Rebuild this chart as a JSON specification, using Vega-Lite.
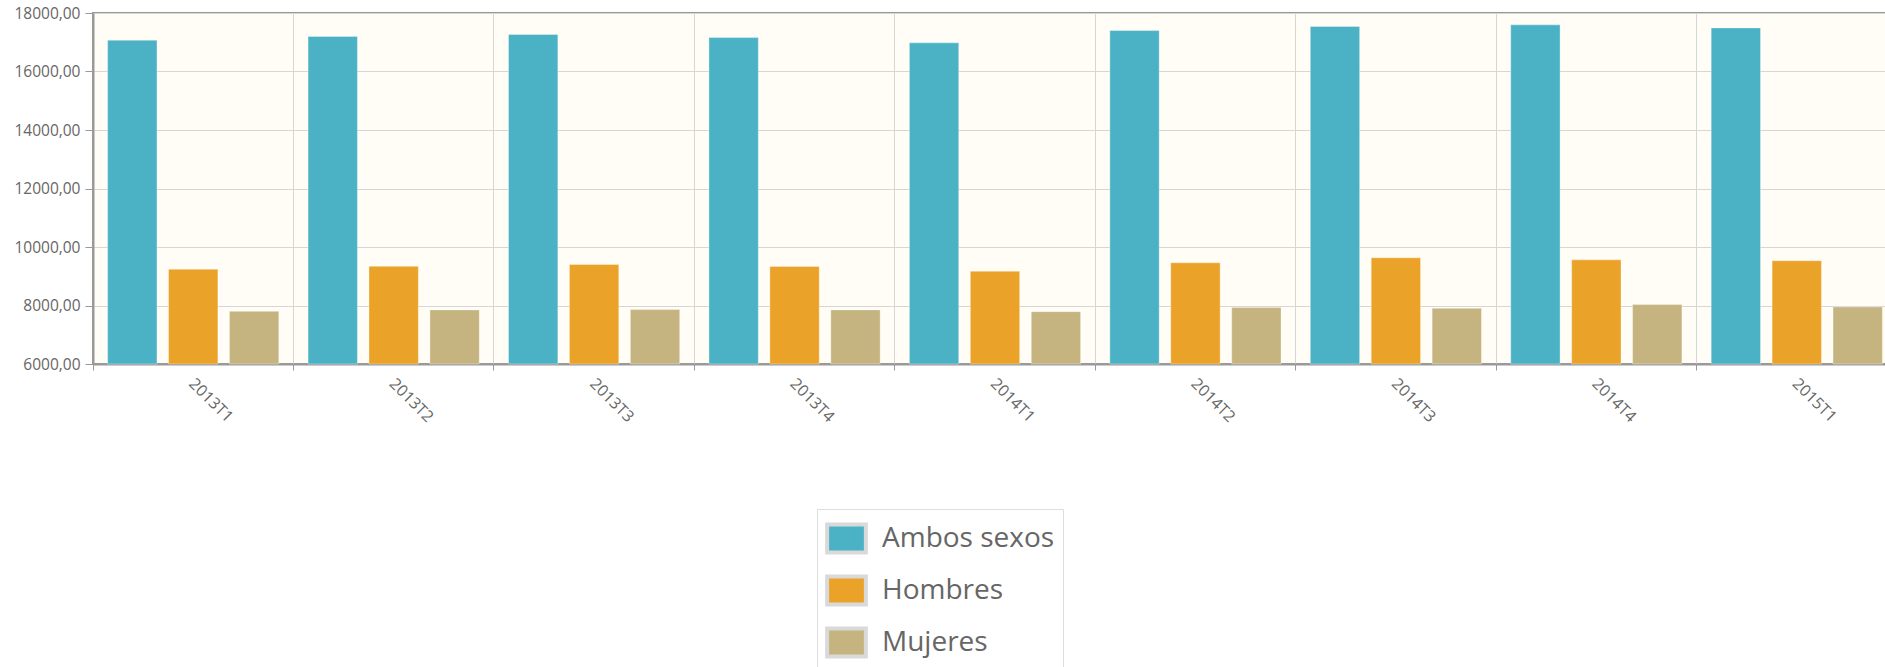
{
  "$schema": "https://vega.github.io/schema/vega-lite/v6.json",
  "width": 1800,
  "height": 351,
  "autosize": {"type": "none"},
  "padding": {"left": 93, "top": 13, "right": -8, "bottom": 303},
  "background": "#ffffff",
  "config": {
    "font": "Open Sans",
    "view": {"fill": "#fffdf6", "stroke": "#999999", "strokeWidth": 2},
    "axis": {"labelFont": "Open Sans", "labelColor": "#666666", "gridColor": "#d6d6d6", "gridWidth": 1, "domainColor": "#999999", "domainWidth": 2, "tickColor": "#999999"}
  },
  "data": {"values": [
    {"periodo": "2013T1", "sexo": "Ambos sexos", "valor": 17070},
    {"periodo": "2013T2", "sexo": "Ambos sexos", "valor": 17200},
    {"periodo": "2013T3", "sexo": "Ambos sexos", "valor": 17265},
    {"periodo": "2013T4", "sexo": "Ambos sexos", "valor": 17160},
    {"periodo": "2014T1", "sexo": "Ambos sexos", "valor": 16980},
    {"periodo": "2014T2", "sexo": "Ambos sexos", "valor": 17400},
    {"periodo": "2014T3", "sexo": "Ambos sexos", "valor": 17540},
    {"periodo": "2014T4", "sexo": "Ambos sexos", "valor": 17595},
    {"periodo": "2015T1", "sexo": "Ambos sexos", "valor": 17490},
    {"periodo": "2013T1", "sexo": "Hombres", "valor": 9240},
    {"periodo": "2013T2", "sexo": "Hombres", "valor": 9340},
    {"periodo": "2013T3", "sexo": "Hombres", "valor": 9400},
    {"periodo": "2013T4", "sexo": "Hombres", "valor": 9330},
    {"periodo": "2014T1", "sexo": "Hombres", "valor": 9170},
    {"periodo": "2014T2", "sexo": "Hombres", "valor": 9460},
    {"periodo": "2014T3", "sexo": "Hombres", "valor": 9630},
    {"periodo": "2014T4", "sexo": "Hombres", "valor": 9560},
    {"periodo": "2015T1", "sexo": "Hombres", "valor": 9530},
    {"periodo": "2013T1", "sexo": "Mujeres", "valor": 7800},
    {"periodo": "2013T2", "sexo": "Mujeres", "valor": 7850},
    {"periodo": "2013T3", "sexo": "Mujeres", "valor": 7860},
    {"periodo": "2013T4", "sexo": "Mujeres", "valor": 7850},
    {"periodo": "2014T1", "sexo": "Mujeres", "valor": 7790},
    {"periodo": "2014T2", "sexo": "Mujeres", "valor": 7930},
    {"periodo": "2014T3", "sexo": "Mujeres", "valor": 7905},
    {"periodo": "2014T4", "sexo": "Mujeres", "valor": 8030},
    {"periodo": "2015T1", "sexo": "Mujeres", "valor": 7950}
  ]},
  "mark": {"type": "bar", "stroke": "#ffffff", "strokeOpacity": 0.35, "strokeWidth": 1},
  "encoding": {
    "x": {
      "field": "periodo", "type": "nominal", "title": null,
      "scale": {"range": [0, 1804], "paddingInner": 0, "paddingOuter": 0},
      "axis": {"bandPosition": 0, "grid": true, "labelAngle": 45, "labelAlign": "left", "labelBaseline": "top", "labelOffset": 4, "labelPadding": 5, "tickSize": 6, "labelFontSize": 16}
    },
    "xOffset": {
      "field": "sexo", "type": "nominal",
      "scale": {"paddingInner": 0.19, "paddingOuter": 0.24}
    },
    "y": {
      "field": "valor", "type": "quantitative", "title": null,
      "scale": {"domain": [6000, 18000], "zero": false, "nice": false},
      "axis": {"values": [6000, 8000, 10000, 12000, 14000, 16000, 18000], "labelExpr": "replace(format(datum.value, '.2f'), '.', ',')", "tickSize": 8, "labelPadding": 5, "labelFontSize": 15.5, "grid": true}
    },
    "y2": {"datum": 6000},
    "color": {
      "field": "sexo", "type": "nominal",
      "scale": {"domain": ["Ambos sexos", "Hombres", "Mujeres"], "range": ["#4bb2c5", "#eaa228", "#c5b47f"]},
      "legend": {
        "title": null, "orient": "none", "legendX": 724, "legendY": 496,
        "symbolType": "M-1,-0.72H1V0.72H-1Z", "symbolSize": 1500, "symbolStrokeColor": "#d9d9d9", "symbolStrokeWidth": 4,
        "labelFontSize": 28, "labelColor": "#666666", "labelFont": "Open Sans", "labelOffset": 14,
        "rowPadding": 7, "padding": 8, "strokeColor": "#dddddd", "fillColor": "#ffffff", "labelLimit": 400
      }
    }
  }
}
